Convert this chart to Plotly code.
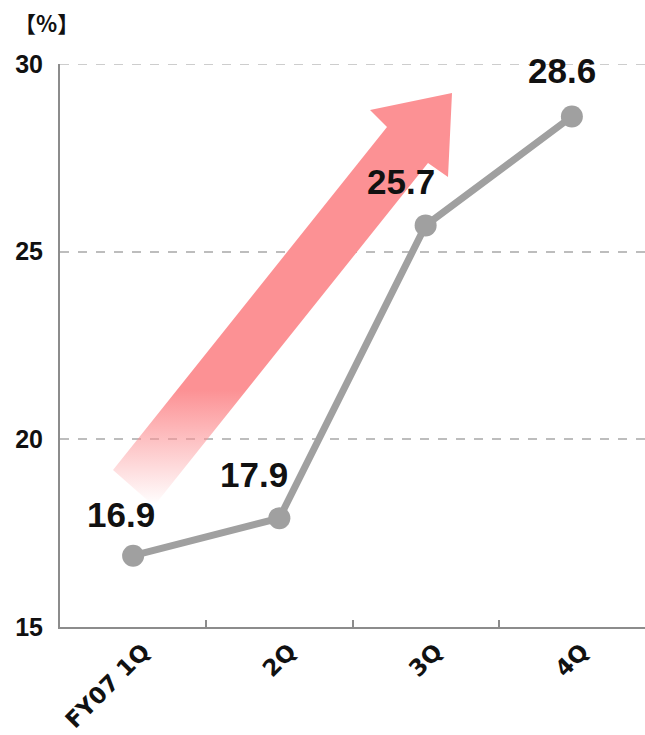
import plotly.graph_objects as go

# ---- data ----
categories = ["FY07 1Q", "2Q", "3Q", "4Q"]
values = [16.9, 17.9, 25.7, 28.6]
value_labels = ["16.9", "17.9", "25.7", "28.6"]
y_ticks = [15, 20, 25, 30]

# label offsets (px) relative to each point
label_dx = [-12, -25, -25, -10]
label_dy = [20, 22, 22, 25]

# decorative arrow outline in pixel space of the 645x735 image
arrow_px = [(113, 470), (387, 127), (370, 110), (452, 93), (448, 177), (428, 163), (154, 506), (113, 470)]

W, H = 645, 735
ML, MR, MT, MB = 60, 0, 64, 108
YMIN, YMAX = 15, 30
pw = W - ML - MR
ph = H - MT - MB

NUM_FONT = "Liberation Sans, Arial, sans-serif"


def px_to_x2(px):
    return (px - ML) / pw * 4 - 0.5


def px_to_y(py):
    return YMIN + (H - MB - py) / ph * (YMAX - YMIN)


ax = [px_to_x2(p[0]) for p in arrow_px]
ay = [px_to_y(p[1]) for p in arrow_px]

fig = go.Figure()

fig.add_trace(go.Scatter(
    x=ax, y=ay, xaxis="x2", yaxis="y",
    mode="lines", fill="toself", line=dict(width=0, color="rgba(0,0,0,0)"),
    fillgradient=dict(type="vertical",
                      colorscale=[[0, "rgba(252,145,148,0)"], [1, "rgba(252,145,148,1)"]],
                      start=px_to_y(505), stop=px_to_y(390)),
    hoverinfo="skip", showlegend=False,
))

fig.add_trace(go.Scatter(
    x=categories, y=values, mode="lines+markers",
    line=dict(color="#a0a0a0", width=7),
    marker=dict(color="#a0a0a0", size=22),
    hoverinfo="skip", showlegend=False,
))

for c, v, t, dx, dy in zip(categories, values, value_labels, label_dx, label_dy):
    fig.add_annotation(x=c, y=v, text="<b>" + t + "</b>", showarrow=False, xshift=dx, yshift=dy,
                       yanchor="bottom", xanchor="center",
                       font=dict(family=NUM_FONT, size=35, color="#111"))

# top gridline at 30 (plotly hides grid lines on the plot edge)
fig.add_shape(type="line", xref="paper", yref="y", x0=0, x1=1, y0=max(y_ticks), y1=max(y_ticks),
              line=dict(color="#bdbdbd", width=1.5, dash="dash"), layer="below")

fig.add_annotation(xref="paper", yref="paper", x=-(ML - 12) / pw, y=1 + 24 / ph,
                   xanchor="left", yanchor="bottom", text="<b>【%】</b>", showarrow=False,
                   font=dict(family="Noto Sans CJK JP", size=22, color="#111"))

fig.update_layout(
    width=W, height=H,
    margin=dict(l=ML, r=MR, t=MT, b=MB, autoexpand=False),
    plot_bgcolor="white", paper_bgcolor="white",
    xaxis=dict(type="category", range=[-0.5, 3.5], showgrid=False, automargin=False,
               showline=True, linecolor="#8c8c8c", linewidth=2,
               ticks="inside", tickson="boundaries", ticklen=7, tickcolor="#8c8c8c", tickwidth=1.5,
               tickangle=-45, ticklabelstandoff=0, ticklabelshift=10,
               tickfont=dict(family="DejaVu Sans", size=23, color="#111", weight="bold")),
    xaxis2=dict(overlaying="x", range=[-0.5, 3.5], visible=False),
    yaxis=dict(range=[YMIN, YMAX], tickvals=y_ticks, showgrid=True, automargin=False,
               gridcolor="#bdbdbd", griddash="dash", gridwidth=1.5,
               showline=True, linecolor="#8c8c8c", linewidth=2, ticks="",
               zeroline=False, ticklabelstandoff=10,
               tickfont=dict(family=NUM_FONT, size=25, color="#111", weight="bold")),
)

fig.write_html("out.html")
